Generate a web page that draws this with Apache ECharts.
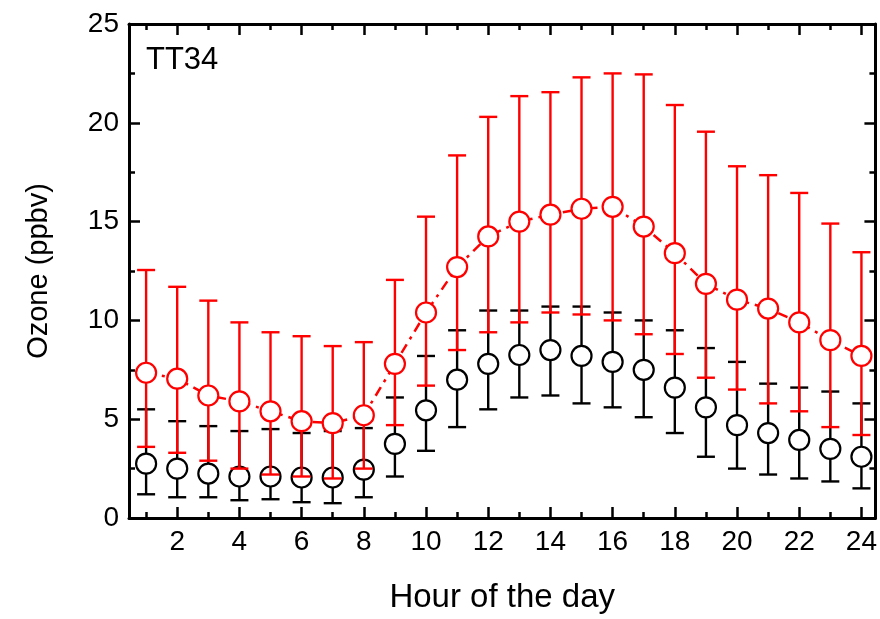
<!DOCTYPE html>
<html>
<head>
<meta charset="utf-8">
<script src="https://cdn.jsdelivr.net/npm/echarts@6/dist/echarts.min.js"></script>
<style>html,body{margin:0;padding:0;background:#fff}#c{width:880px;height:619px}</style>
</head>
<body>
<div id="c"></div>
<script>
var hours = [1,2,3,4,5,6,7,8,9,10,11,12,13,14,15,16,17,18,19,20,21,22,23,24];
var redMean  = [7.35,7.05,6.2,5.9,5.4,4.9,4.8,5.2,7.8,10.4,12.7,14.25,15.0,15.35,15.65,15.75,14.75,13.4,11.85,11.05,10.6,9.9,9.0,8.2];
var redUpper = [12.55,11.7,11.0,9.9,9.4,9.2,8.7,8.9,12.05,15.25,18.35,20.3,21.35,21.55,22.3,22.5,22.45,20.9,19.55,17.8,17.35,16.45,14.9,13.45];
var redLower = [3.6,3.3,2.9,2.5,2.2,2.1,2.0,2.5,4.7,6.7,8.5,9.4,9.9,10.4,10.3,10.0,9.3,8.3,7.1,6.5,5.8,5.4,4.6,4.2];
var blkMean  = [2.75,2.5,2.25,2.1,2.1,2.05,2.05,2.45,3.75,5.45,7.0,7.8,8.25,8.5,8.2,7.9,7.5,6.6,5.6,4.7,4.3,3.95,3.5,3.1];
var blkUpper = [5.5,4.9,4.65,4.4,4.5,4.3,4.4,4.55,6.1,8.2,9.5,10.5,10.5,10.7,10.7,10.4,10.0,9.5,8.6,7.9,6.8,6.6,6.4,5.8];
var blkLower = [1.2,1.05,1.05,0.9,0.95,0.8,0.75,1.05,2.1,3.4,4.6,5.5,6.1,6.2,5.8,5.6,5.1,4.3,3.1,2.5,2.2,2.0,1.85,1.5];
var xLabelTicks = [2,4,6,8,10,12,14,16,18,20,22,24];
var xMinorTicks = [1,3,5,7,9,11,13,15,17,19,21,23];
var panelLabel = 'TT34';
var xName = 'Hour of the day';
var yName = 'Ozone (ppbv)';

var FONT = '"Liberation Sans", Arial, sans-serif';
function errData(lo, hi) {
  return hours.map(function (h, i) { return [h, lo[i], hi[i]]; });
}
function errRender(color) {
  return function (params, api) {
    var x = api.value(0);
    var lo = api.coord([x, api.value(1)]);
    var hi = api.coord([x, api.value(2)]);
    var hw = 9;
    var st = { stroke: color, lineWidth: 2.4 };
    return {
      type: 'group',
      children: [
        { type: 'line', shape: { x1: lo[0], y1: lo[1], x2: hi[0], y2: hi[1] }, style: st },
        { type: 'line', shape: { x1: lo[0] - hw, y1: lo[1], x2: lo[0] + hw, y2: lo[1] }, style: st },
        { type: 'line', shape: { x1: hi[0] - hw, y1: hi[1], x2: hi[0] + hw, y2: hi[1] }, style: st }
      ]
    };
  };
}
function xAx(pos, ticks, len, showLine, showLabel) {
  return {
    type: 'value', position: pos, min: 0.45, max: 24.45,
    axisLine: { show: showLine, onZero: false, lineStyle: { color: '#000', width: 3 } },
    axisTick: { show: true, inside: true, length: len, customValues: ticks, lineStyle: { color: '#000', width: 2.5 } },
    axisLabel: showLabel ? { show: true, customValues: xLabelTicks, fontSize: 28, color: '#000', fontFamily: FONT, margin: 10 } : { show: false },
    splitLine: { show: false },
    name: showLabel ? xName : '',
    nameLocation: 'middle', nameGap: 63,
    nameTextStyle: { fontSize: 33, color: '#000', fontFamily: FONT }
  };
}
function yAx(pos, showLabel) {
  return {
    type: 'value', position: pos, min: 0, max: 25, interval: 5,
    axisLine: { show: true, onZero: false, lineStyle: { color: '#000', width: 3 } },
    axisTick: { show: true, inside: true, length: 11, lineStyle: { color: '#000', width: 2.5 } },
    minorTick: { show: true, splitNumber: 2, length: 6, lineStyle: { color: '#000', width: 2.5 } },
    axisLabel: showLabel ? { show: true, fontSize: 28, color: '#000', fontFamily: FONT, margin: 10 } : { show: false },
    splitLine: { show: false }, minorSplitLine: { show: false },
    name: showLabel ? yName : '',
    nameLocation: 'middle', nameGap: 76,
    nameTextStyle: { fontSize: 29, color: '#000', fontFamily: FONT }
  };
}
var chart = echarts.init(document.getElementById('c'), null, { renderer: 'canvas' });
chart.setOption({
  backgroundColor: '#fff',
  animation: false,
  grid: { left: 129, right: 2, top: 24, bottom: 100, containLabel: false },
  xAxis: [
    xAx('bottom', xLabelTicks, 11, true, true),
    xAx('bottom', xMinorTicks, 6, false, false),
    xAx('top', xLabelTicks, 11, true, false),
    xAx('top', xMinorTicks, 6, false, false)
  ],
  yAxis: [yAx('left', true), yAx('right', false)],
  graphic: [{
    type: 'text', left: 146, top: 45,
    style: { text: panelLabel, fontSize: 31, fill: '#000', fontFamily: FONT }
  }],
  series: [
    { type: 'custom', xAxisIndex: 0, yAxisIndex: 0, z: 1, renderItem: errRender('#000'), data: errData(blkLower, blkUpper), clip: false },
    { type: 'scatter', xAxisIndex: 0, yAxisIndex: 0, z: 2, symbol: 'circle', symbolSize: 20,
      itemStyle: { color: '#fff', opacity: 1, borderColor: '#000', borderWidth: 2.2 },
      data: hours.map(function (h, i) { return [h, blkMean[i]]; }) },
    { type: 'custom', xAxisIndex: 0, yAxisIndex: 0, z: 3, renderItem: errRender('#ff0000'), data: errData(redLower, redUpper), clip: false },
    { type: 'line', xAxisIndex: 0, yAxisIndex: 0, z: 4, symbol: 'circle', symbolSize: 20, showSymbol: true,
      lineStyle: { color: '#ff0000', width: 2.5, type: [10, 6, 3, 6] },
      itemStyle: { color: '#fff', opacity: 1, borderColor: '#ff0000', borderWidth: 2.2 },
      data: hours.map(function (h, i) { return [h, redMean[i]]; }) }
  ]
});
</script>
</body>
</html>
